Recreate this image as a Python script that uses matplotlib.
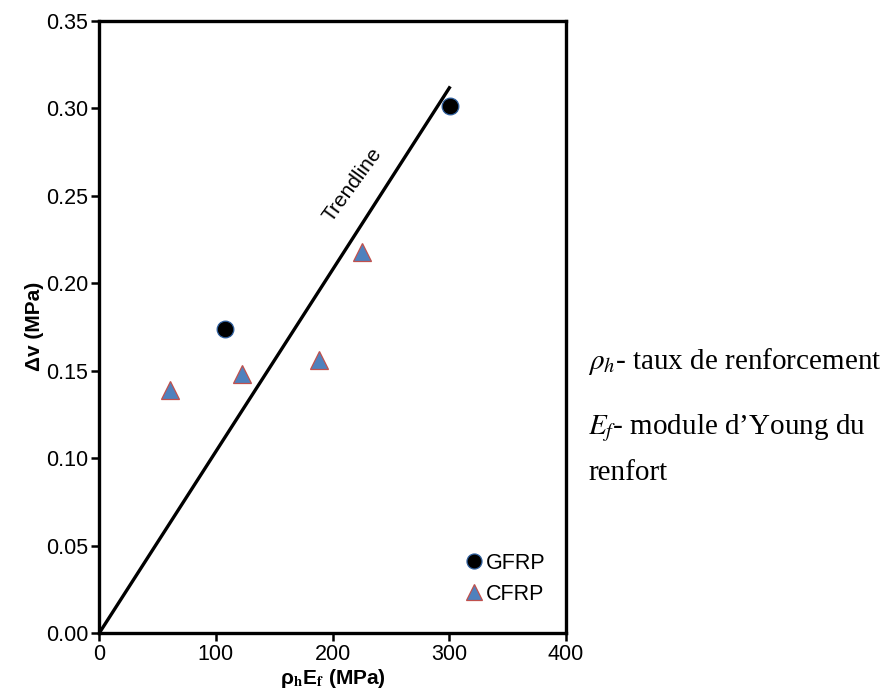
import matplotlib
matplotlib.use("Agg")
import matplotlib.pyplot as plt
import numpy as np

gfrp_x = [108, 301]
gfrp_y = [0.174, 0.301]
cfrp_x = [61, 122, 188, 225]
cfrp_y = [0.139, 0.148, 0.156, 0.218]
trend_x = [0, 301]
trend_slope = 0.001038

x_ticks = [0, 100, 200, 300, 400]
y_ticks = [0.00, 0.05, 0.10, 0.15, 0.20, 0.25, 0.30, 0.35]

plt.rcParams['font.family'] = ['Liberation Sans', 'DejaVu Sans']
plt.rcParams['mathtext.fontset'] = 'stix'

W, H = 894, 700
fig = plt.figure(figsize=(W / 100, H / 100), dpi=100)
ax = fig.add_axes([99.3 / W, 1 - 633 / H, 466.4 / W, 612.3 / H])

tx = np.array(trend_x, dtype=float)
ax.plot(tx, trend_slope * tx, color='black', lw=2.4, zorder=2, solid_capstyle='butt')

ax.plot(gfrp_x, gfrp_y, linestyle='none', marker='o', markersize=12,
        markerfacecolor='black', markeredgecolor='#2f5f9e', markeredgewidth=0.9,
        label='GFRP', zorder=3)
ax.plot(cfrp_x, cfrp_y, linestyle='none', marker='^', markersize=13,
        markerfacecolor='#4f81bd', markeredgecolor='#c0504d', markeredgewidth=0.9,
        label='CFRP', zorder=3)

ax.text(217, 0.256, 'Trendline', rotation=54, ha='center', va='center',
        fontsize=15)

ax.set_xlim(0, 400)
ax.set_ylim(0, 0.35)
ax.set_xticks(x_ticks)
ax.set_yticks(y_ticks)
ax.set_xticklabels([str(v) for v in x_ticks])
ax.set_yticklabels(['%.2f' % v for v in y_ticks])
ax.tick_params(direction='out', length=6, width=1.8, labelsize=15.5, pad=2)
for s in ax.spines.values():
    s.set_linewidth(2.4)

ax.set_xlabel(r'ρ$_{\mathbf{h}}$E$_{\mathbf{f}}$ (MPa)', fontsize=15, fontweight='bold', labelpad=1)
ax.set_ylabel('Δv (MPa)', fontsize=15, fontweight='bold', labelpad=1)

leg = ax.legend(loc='upper left', frameon=False, fontsize=15.5, handletextpad=0.05,
                handlelength=1.0, borderpad=0.0, borderaxespad=0.0, labelspacing=0.45,
                markerscale=0.9,
                bbox_to_anchor=((463 - 99.3) / 466.4, (633 - 553) / 612.3))

serif = ['Liberation Serif', 'DejaVu Serif']
fs = 21
fig.text(588 / W, 1 - 369 / H, r'$\rho_h$- taux de renforcement', fontsize=fs,
         family=serif, va='baseline', ha='left')
fig.text(588 / W, 1 - 434 / H, r'$E_f$- module d’Young du', fontsize=fs,
         family=serif, va='baseline', ha='left')
fig.text(588 / W, 1 - 480 / H, 'renfort', fontsize=fs,
         family=serif, va='baseline', ha='left')

fig.savefig('out.png', dpi=100)
